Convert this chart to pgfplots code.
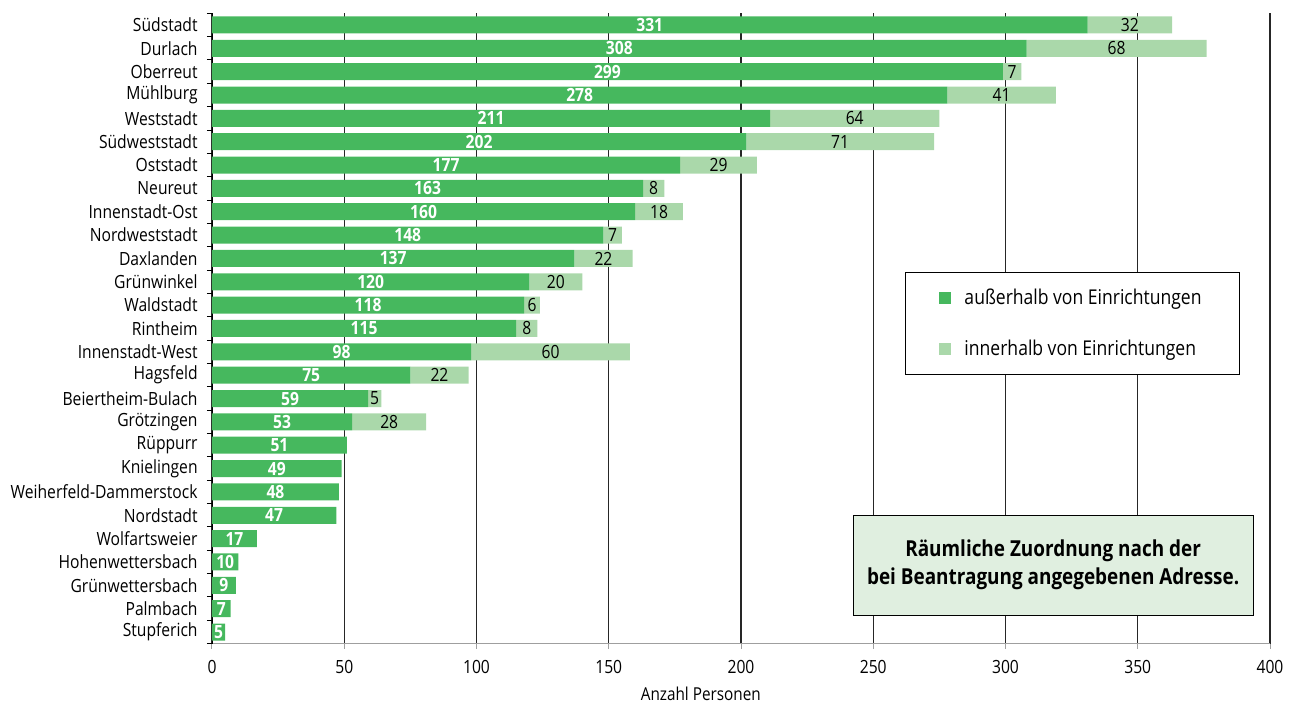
\documentclass[border=0pt]{standalone}
\usepackage{pgfplots}
\pgfplotsset{compat=1.18}
\usepackage{pgfplotstable}
\usepackage{fontspec}
\setmainfont{Open Sans}[FakeStretch=0.86]

\definecolor{dkgreen}{RGB}{70,184,94}
\definecolor{ltgreen}{RGB}{170,216,170}
\definecolor{notefill}{RGB}{224,239,224}
\newcommand\lbl{\fontsize{9.1}{11}\selectfont}

% idx: row position (0 = bottom), aus: outside facilities, inn: inside facilities
\pgfplotstableread{
idx aus inn
26 331 32
25 308 68
24 299 7
23 278 41
22 211 64
21 202 71
20 177 29
19 163 8
18 160 18
17 148 7
16 137 22
15 120 20
14 118 6
13 115 8
12 98 60
11 75 22
10 59 5
9 53 28
8 51 0
7 49 0
6 48 0
5 47 0
4 17 0
3 10 0
2 9 0
1 7 0
0 5 0
}\data

\pgfplotsset{stadt/.style={width=529pt, height=315.2pt, scale only axis,
  xmin=0, xmax=400, ymin=-0.5, ymax=26.5, clip=false}}

\begin{document}
\begin{tikzpicture}
\useasboundingbox (-106pt,-30.15pt) rectangle (544pt,321.85pt);
\begin{axis}[stadt,
  xbar stacked, bar width=8.5pt,
  axis x line*=bottom, axis y line*=left,
  x axis line style={draw=gray!75, -},
  y axis line style={draw=black, -},
  xtick={0,50,...,400},
  xmajorgrids, major grid style={draw=black!85, line width=0.6pt},
  ytick={0,...,26},
  yticklabels={Stupferich, Palmbach, Grünwettersbach, Hohenwettersbach,
    Wolfartsweier, Nordstadt, Weiherfeld-Dammerstock, Knielingen, Rüppurr,
    Grötzingen, Beiertheim-Bulach, Hagsfeld, Innenstadt-West, Rintheim,
    Waldstadt, Grünwinkel, Daxlanden, Nordweststadt, Innenstadt-Ost,
    Neureut, Oststadt, Südweststadt, Weststadt, Mühlburg, Oberreut,
    Durlach, Südstadt},
  minor ytick={-0.5,0.5,...,26.5},
  tick align=outside, major tick length=2.5pt, minor tick length=2.5pt,
  every major y tick/.style={draw=none},
  every minor y tick/.style={draw=black, line width=0.5pt},
  every major x tick/.style={draw=gray!75, line width=0.5pt},
  /pgf/number format/assume math mode=true,
  yticklabel style={font=\lbl, anchor=east, inner sep=0pt, xshift=-4.5pt},
  xticklabel style={font=\lbl, anchor=north, inner sep=0pt, yshift=-5.5pt},
  xlabel={Anzahl Personen},
  xlabel style={font=\fontsize{8.9}{10}\selectfont, at={(axis description cs:0.462,0)},
    anchor=center, yshift=-25pt},
  legend style={at={(axis description cs:0.655,0.5896)}, anchor=north west,
    draw=black, line width=0.5pt, fill=white, font=\fontsize{10.2}{12}\selectfont,
    inner xsep=17pt, inner ysep=6pt, row sep=12.5pt,
    nodes={inner sep=2pt},
    /tikz/every odd column/.style={column sep=4.5pt}},
  legend cell align=left,
  legend image code/.code={\fill[#1] (0pt,-3pt) rectangle (6pt,3pt);},
]
\addplot[fill=dkgreen, draw=none] table[x=aus, y=idx]{\data};
\addplot[fill=ltgreen, draw=none] table[x=inn, y=idx]{\data};
\legend{außerhalb von Einrichtungen, innerhalb von Einrichtungen}

\node[draw=black, line width=0.5pt, fill=notefill, minimum width=200pt,
  minimum height=50pt, align=center,
  font=\bfseries\fontsize{11}{14}\selectfont] at (axis cs:318,2.87)
  {Räumliche Zuordnung nach der\\bei Beantragung angegebenen Adresse.};
\end{axis}

% value labels centred in each segment
\begin{axis}[stadt, hide axis]
\addplot[draw=none, mark=none, nodes near coords, point meta=explicit symbolic,
  every node near coord/.append style={anchor=center, inner sep=0pt,
    text=white, font=\bfseries\lbl}]
  table[x expr=\thisrow{aus}/2, y=idx, meta=aus]{\data};
\addplot[draw=none, mark=none, point meta=explicit symbolic,
  nodes near coords={\ifnum\pgfplotspointmeta>0 \pgfplotspointmeta\fi},
  every node near coord/.append style={anchor=center, inner sep=0pt,
    text=black, font=\lbl}]
  table[x expr=\thisrow{aus}+\thisrow{inn}/2, y=idx, meta=inn]{\data};
\end{axis}
\end{tikzpicture}
\end{document}
